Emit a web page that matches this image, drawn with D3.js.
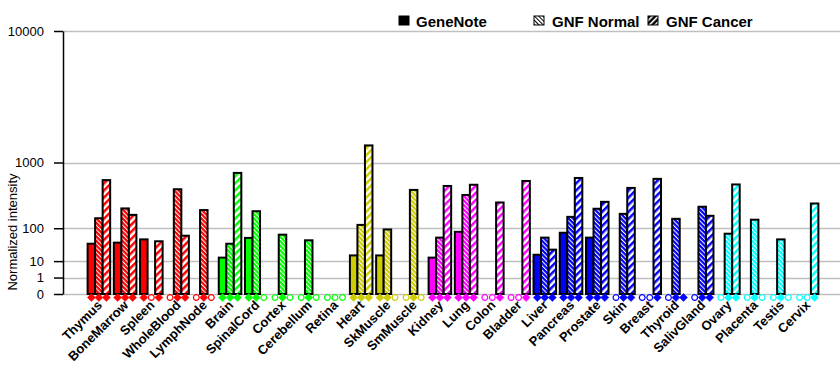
<!DOCTYPE html>
<html>
<head>
<meta charset="utf-8">
<script src="https://cdn.jsdelivr.net/npm/d3@7"></script>
<style>
  body { margin: 0; background: #fff; }
  svg { display: block; font-family: "Liberation Sans", Arial, sans-serif; }
</style>
</head>
<body>
<div id="chart"></div>
<script>
// Données
const tissues = ['Thymus', 'BoneMarrow', 'Spleen', 'WholeBlood', 'LymphNode',
  'Brain', 'SpinalCord', 'Cortex', 'Cerebellum', 'Retina',
  'Heart', 'SkMuscle', 'SmMuscle',
  'Kidney', 'Lung', 'Colon', 'Bladder',
  'Liver', 'Pancreas', 'Prostate', 'Skin', 'Breast', 'Thyroid', 'SalivGland',
  'Ovary', 'Placenta', 'Testis', 'Cervix'];
const tissueGroup = ['r', 'r', 'r', 'r', 'r', 'g', 'g', 'g', 'g', 'g', 'y', 'y', 'y',
  'm', 'm', 'm', 'm', 'b', 'b', 'b', 'b', 'b', 'b', 'b', 'c', 'c', 'c', 'c'];
const groupColors = { r: '#ff0000', g: '#00ff00', y: '#cccc00', m: '#ff00ff', b: '#0000ff', c: '#00ffff' };

const series = ['GeneNote', 'GNF Normal', 'GNF Cancer'];
const geneNote  = [41, 44, 54, 0, 0, 14, 59, 0, 0, 0, 17, 17, 0, 14, 83, 0, 0, 18, 79, 60, 0, 0, 0, 0, 0, 0, 0, 0];
const gnfNormal = [160, 240, 0, 470, 225, 41, 215, 71, 51, 0, 118, 94, 460, 60, 390, 0, 0, 60, 170, 237, 193, 0, 156, 256, 75, 150, 54, 0];
const gnfCancer = [620, 185, 48, 67, 0, 760, 0, 0, 0, 0, 1500, 0, 0, 520, 540, 300, 605, 27, 660, 307, 490, 643, 0, 178, 545, 0, 0, 289];
// Présence (plein / vide) pour GeneNote, GNF Normal, GNF Cancer
const presence = ['111', '111', '101', '011', '010', '111', '110', '010', '010', '000',
  '111', '110', '010', '111', '111', '001', '001', '111', '111', '111', '011', '001',
  '011', '011', '011', '010', '010', '001'];
const yTicks = [0, 1, 10, 100, 1000, 10000];

const width = 840, height = 385;
const plotLeft = 63, plotTop = 31, plotBottom = 294;

const svg = d3.select('#chart').append('svg')
  .attr('width', width)
  .attr('height', height);

// Motifs de hachures
const defs = svg.append('defs');
function addPattern(id, color, bg, pitch, stripe, angle) {
  const p = defs.append('pattern')
    .attr('id', id)
    .attr('patternUnits', 'userSpaceOnUse')
    .attr('width', pitch)
    .attr('height', pitch)
    .attr('patternTransform', `rotate(${angle})`);
  p.append('rect').attr('width', pitch).attr('height', pitch).attr('fill', bg);
  p.append('rect').attr('width', stripe).attr('height', pitch).attr('fill', color);
}
Object.entries(groupColors).forEach(([k, c]) => {
  addPattern(`norm-${k}`, '#fff', c, 3.2, 1, -45);
  addPattern(`canc-${k}`, c, '#fff', 5, 2.5, 45);
});
addPattern('norm-legend', '#000', '#fff', 3, 1, -45);
addPattern('canc-legend', '#fff', '#000', 4, 1.6, 45);

// Échelles
const y = d3.scalePow()
  .exponent(Math.log10(2))
  .domain([0, 10000])
  .range([plotBottom, plotTop]);

const x = d3.scaleBand()
  .domain(tissues)
  .range([64, 842])
  .paddingInner(0.14)
  .paddingOuter(0.9);

const xSub = d3.scaleBand()
  .domain(series)
  .range([0, x.bandwidth()]);

// Grille
svg.append('g')
  .selectAll('line')
  .data(yTicks)
  .enter().append('line')
  .attr('x1', plotLeft)
  .attr('x2', width)
  .attr('y1', d => Math.round(y(d)) + 0.5)
  .attr('y2', d => Math.round(y(d)) + 0.5)
  .style('stroke', '#c0c0c0')
  .style('stroke-width', 1.5);

// Axe Y
const yAxis = svg.append('g')
  .attr('transform', `translate(${plotLeft},0)`)
  .call(d3.axisLeft(y).tickValues(yTicks).tickFormat(d3.format('d')).tickSize(9).tickSizeOuter(0).tickPadding(10));
yAxis.select('.domain').style('stroke', '#000').style('stroke-width', 1.5);
yAxis.selectAll('.tick line').style('stroke', '#000').style('stroke-width', 1.5);
yAxis.selectAll('.tick text')
  .style('font-size', '13px')
  .style('font-family', '"Liberation Sans", Arial, sans-serif')
  .style('fill', '#000');

svg.append('text')
  .attr('transform', `translate(17,232) rotate(-90)`)
  .style('text-anchor', 'middle')
  .style('font-size', '13px')
  .text('Normalized intensity');

// Barres
const rows = tissues.map((t, i) => ({
  tissue: t,
  key: tissueGroup[i],
  values: [geneNote[i], gnfNormal[i], gnfCancer[i]],
  present: presence[i]
}));

const groups = svg.append('g')
  .selectAll('g')
  .data(rows)
  .enter().append('g')
  .attr('transform', d => `translate(${x(d.tissue)},0)`);

groups.selectAll('rect')
  .data(d => d.values.map((v, j) => ({ v, j, key: d.key })))
  .enter().append('rect')
  .attr('x', d => xSub(series[d.j]))
  .attr('width', xSub.bandwidth())
  .attr('y', d => y(d.v))
  .attr('height', d => y(0) - y(d.v))
  .style('fill', d => d.j === 0 ? groupColors[d.key] : `url(#${d.j === 1 ? 'norm' : 'canc'}-${d.key})`)
  .style('stroke', '#000')
  .style('stroke-width', 2);

// Marqueurs de présence
groups.selectAll('path')
  .data(d => d.present.split('').map((p, j) => ({ on: p === '1', j, key: d.key })))
  .enter().append('path')
  .attr('transform', d => `translate(${xSub(series[d.j]) + xSub.bandwidth() / 2},297.5)` + (d.on ? ' rotate(45)' : ''))
  .attr('d', d => d.on ? d3.symbol(d3.symbolSquare).size(32)() : d3.symbol(d3.symbolCircle).size(26)())
  .style('fill', d => d.on ? groupColors[d.key] : '#fff')
  .style('stroke', d => groupColors[d.key])
  .style('stroke-width', d => d.on ? 0.5 : 1.2);

// Étiquettes X
svg.append('g')
  .selectAll('text')
  .data(tissues)
  .enter().append('text')
  .attr('transform', d => `translate(${x(d) + x.bandwidth() / 2 + 4},306) rotate(-45)`)
  .style('text-anchor', 'end')
  .style('font-size', '13px')
  .style('font-weight', 'bold')
  .text(d => d);

// Légende
const legendItems = [
  { label: 'GeneNote', fill: '#000', ix: 399, tx: 416 },
  { label: 'GNF Normal', fill: 'url(#norm-legend)', ix: 534, tx: 552 },
  { label: 'GNF Cancer', fill: 'url(#canc-legend)', ix: 648, tx: 666 }
];
const legend = svg.append('g')
  .selectAll('g')
  .data(legendItems)
  .enter().append('g');
legend.append('rect')
  .attr('x', d => d.ix)
  .attr('y', 16)
  .attr('width', 10)
  .attr('height', 9)
  .style('fill', d => d.fill)
  .style('stroke', '#000')
  .style('stroke-width', 1);
legend.append('text')
  .attr('x', d => d.tx)
  .attr('y', 27)
  .style('font-size', '15px')
  .style('font-weight', 'bold')
  .text(d => d.label);
</script>
</body>
</html>
